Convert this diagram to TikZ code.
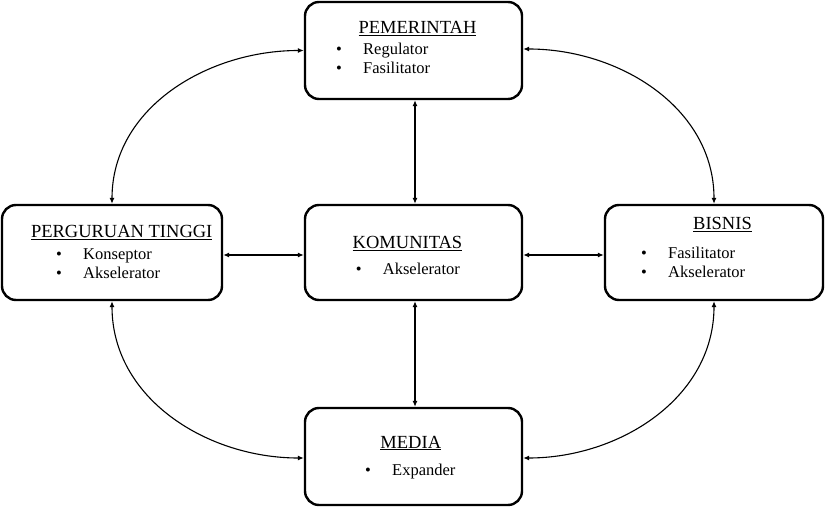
\documentclass[tikz,border=0pt]{standalone}
\usepackage{fontspec}
\setmainfont{Liberation Serif}
\usetikzlibrary{arrows.meta}
\tikzstyle{block}=[draw=black,line width=2.4pt,rounded corners=14pt,inner sep=0pt]
\tikzstyle{heading}=[anchor=base,inner sep=0pt,font=\fontsize{18.5}{22}\selectfont]
\tikzstyle{entry}=[anchor=base west,inner sep=0pt,font=\fontsize{16.5}{20}\selectfont]
\tikzstyle{link}=[line width=1.1pt,{Latex[length=6pt,width=5pt]}-{Latex[length=6pt,width=5pt]}]
\newcommand{\bul}[1]{\makebox[27pt][l]{•}#1}

\begin{document}
\begin{tikzpicture}[x=1pt,y=1pt]
      \useasboundingbox (0,0) rectangle (826,509);

      % blocks
      \node[block,minimum width=217pt,minimum height=97pt] (pem) at (413.5,458.5) {};
      \node[block,minimum width=220pt,minimum height=95pt] (pt) at (112,256.5) {};
      \node[block,minimum width=217pt,minimum height=95pt] (kom) at (413.5,256.5) {};
      \node[block,minimum width=218pt,minimum height=95pt] (bis) at (714,256.5) {};
      \node[block,minimum width=217pt,minimum height=97pt] (med) at (413.5,52.5) {};

      \node[heading] (pemT) at (417.5,475) {\underline{PEMERINTAH}};
      \node[entry] (pem1) at (336,454) {\bul{Regulator}};
      \node[entry] (pem2) at (336,435) {\bul{Fasilitator}};

      \node[heading] (ptT) at (121.7,271) {\underline{PERGURUAN TINGGI}};
      \node[entry] (pt1) at (56,249.7) {\bul{Konseptor}};
      \node[entry] (pt2) at (56,230.7) {\bul{Akselerator}};

      \node[heading] (komT) at (407.5,260) {\underline{KOMUNITAS}};
      \node[entry] (kom1) at (355.7,235) {\bul{Akselerator}};

      \node[heading] (bisT) at (722.5,279) {\underline{BISNIS}};
      \node[entry] (bis1) at (641,250.7) {\bul{Fasilitator}};
      \node[entry] (bis2) at (641,231.7) {\bul{Akselerator}};

      \node[heading] (medT) at (410.8,61) {\underline{MEDIA}};
      \node[entry] (med1) at (365,34) {\bul{Expander}};

      % straight links
      \foreach \a/\b in {pem/kom,kom/med}{
        \draw[link] ([xshift=1.5pt]\a.south) -- ([xshift=1.5pt]\b.north);
      }
      \foreach \a/\b in {pt/kom,kom/bis}{
        \draw[link] ([yshift=-2.5pt]\a.east) -- ([yshift=-2.5pt]\b.west);
      }

      % curved links
      \draw[link] (pem.west) to[out=180,in=90] (pt.north);
      \draw[link] ([yshift=1.5pt]pem.east) to[out=0,in=90] (bis.north);
      \draw[link] (pt.south) to[out=-90,in=180] ([yshift=-1.5pt]med.west);
      \draw[link] (bis.south) to[out=-90,in=0] ([yshift=-1.5pt]med.east);
\end{tikzpicture}
\end{document}
